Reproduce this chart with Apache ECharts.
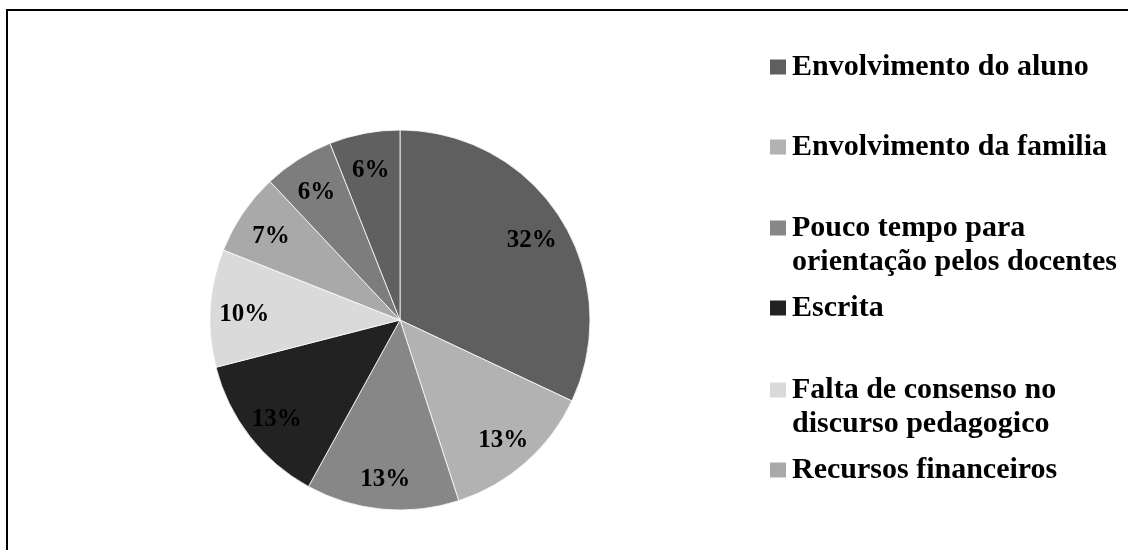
<!DOCTYPE html>
<html>
<head>
<meta charset="utf-8">
<script src="https://cdn.jsdelivr.net/npm/echarts@6/dist/echarts.min.js"></script>
<style>
  html, body { margin: 0; padding: 0; background: #ffffff; }
  #chart { width: 1128px; height: 550px; }
</style>
</head>
<body>
<div id="chart"></div>
<script>
// Obstacles reported, share of answers (%)
const categories = [
  'Envolvimento do aluno',
  'Envolvimento da familia',
  'Pouco tempo para\norientação pelos docentes',
  'Escrita',
  'Falta de consenso no\ndiscurso pedagogico',
  'Recursos financeiros',
  'Outros',
  'Outras dificuldades'
];
const shares = [32, 13, 13, 13, 10, 7, 6, 6];
const sliceColors = ['#5f5f5f', '#b2b2b2', '#878787', '#222222', '#dadada', '#a9a9a9', '#7d7d7d', '#606060'];
// Only the first six categories appear in the key
const legendNames = categories.slice(0, 6);
// vertical position of each key entry (first text line centre)
const legendCentres = [67, 147, 228, 308, 390, 470];

const FONT = '"Liberation Serif", "Times New Roman", serif';
const LINE = 34;

const chart = echarts.init(document.getElementById('chart'), null, { renderer: 'canvas' });

const sliceData = categories.map((name, i) => ({
  name: name,
  value: shares[i],
  itemStyle: { color: sliceColors[i] }
}));

const legends = legendNames.map((name, i) => {
  const multi = name.indexOf('\n') >= 0;
  return {
    data: [name],
    orient: 'vertical',
    left: 768,
    top: legendCentres[i] - (multi ? LINE * 1.5 : LINE / 2),
    padding: 0,
    itemWidth: 18,
    itemHeight: 17,
    itemGap: 0,
    icon: 'rect',
    selectedMode: false,
    // a leading empty line keeps the swatch level with the first text line
    formatter: multi ? (n) => ' \n' + n : '{name}',
    textStyle: {
      fontFamily: FONT,
      fontWeight: 'bold',
      fontSize: 30,
      lineHeight: LINE,
      color: '#000000'
    }
  };
});

chart.setOption({
  animation: false,
  backgroundColor: '#ffffff',
  graphic: [{
    type: 'rect',
    shape: { x: 7, y: 10, width: 1200, height: 600 },
    style: { fill: 'none', stroke: '#000000', lineWidth: 2 },
    silent: true
  }],
  legend: legends,
  series: [
    {
      type: 'pie',
      center: [400, 320],
      radius: [0, 190],
      startAngle: 90,
      clockwise: true,
      avoidLabelOverlap: false,
      label: { show: false },
      labelLine: { show: false },
      itemStyle: { borderColor: '#ffffff', borderWidth: 0.8 },
      data: sliceData,
      silent: true
    },
    {
      // label ring: places the percentage text at ~0.8 of the radius
      type: 'pie',
      center: [400, 324],
      radius: [116, 190],
      startAngle: 90,
      clockwise: true,
      avoidLabelOverlap: false,
      itemStyle: { color: 'rgba(0,0,0,0)', borderWidth: 0 },
      label: {
        show: true,
        position: 'inside',
        formatter: '{c}%',
        fontFamily: FONT,
        fontWeight: 'bold',
        fontSize: 25,
        color: '#000000'
      },
      labelLine: { show: false },
      data: categories.map((name, i) => ({ name: name, value: shares[i] })),
      silent: true
    }
  ]
});
</script>
</body>
</html>
